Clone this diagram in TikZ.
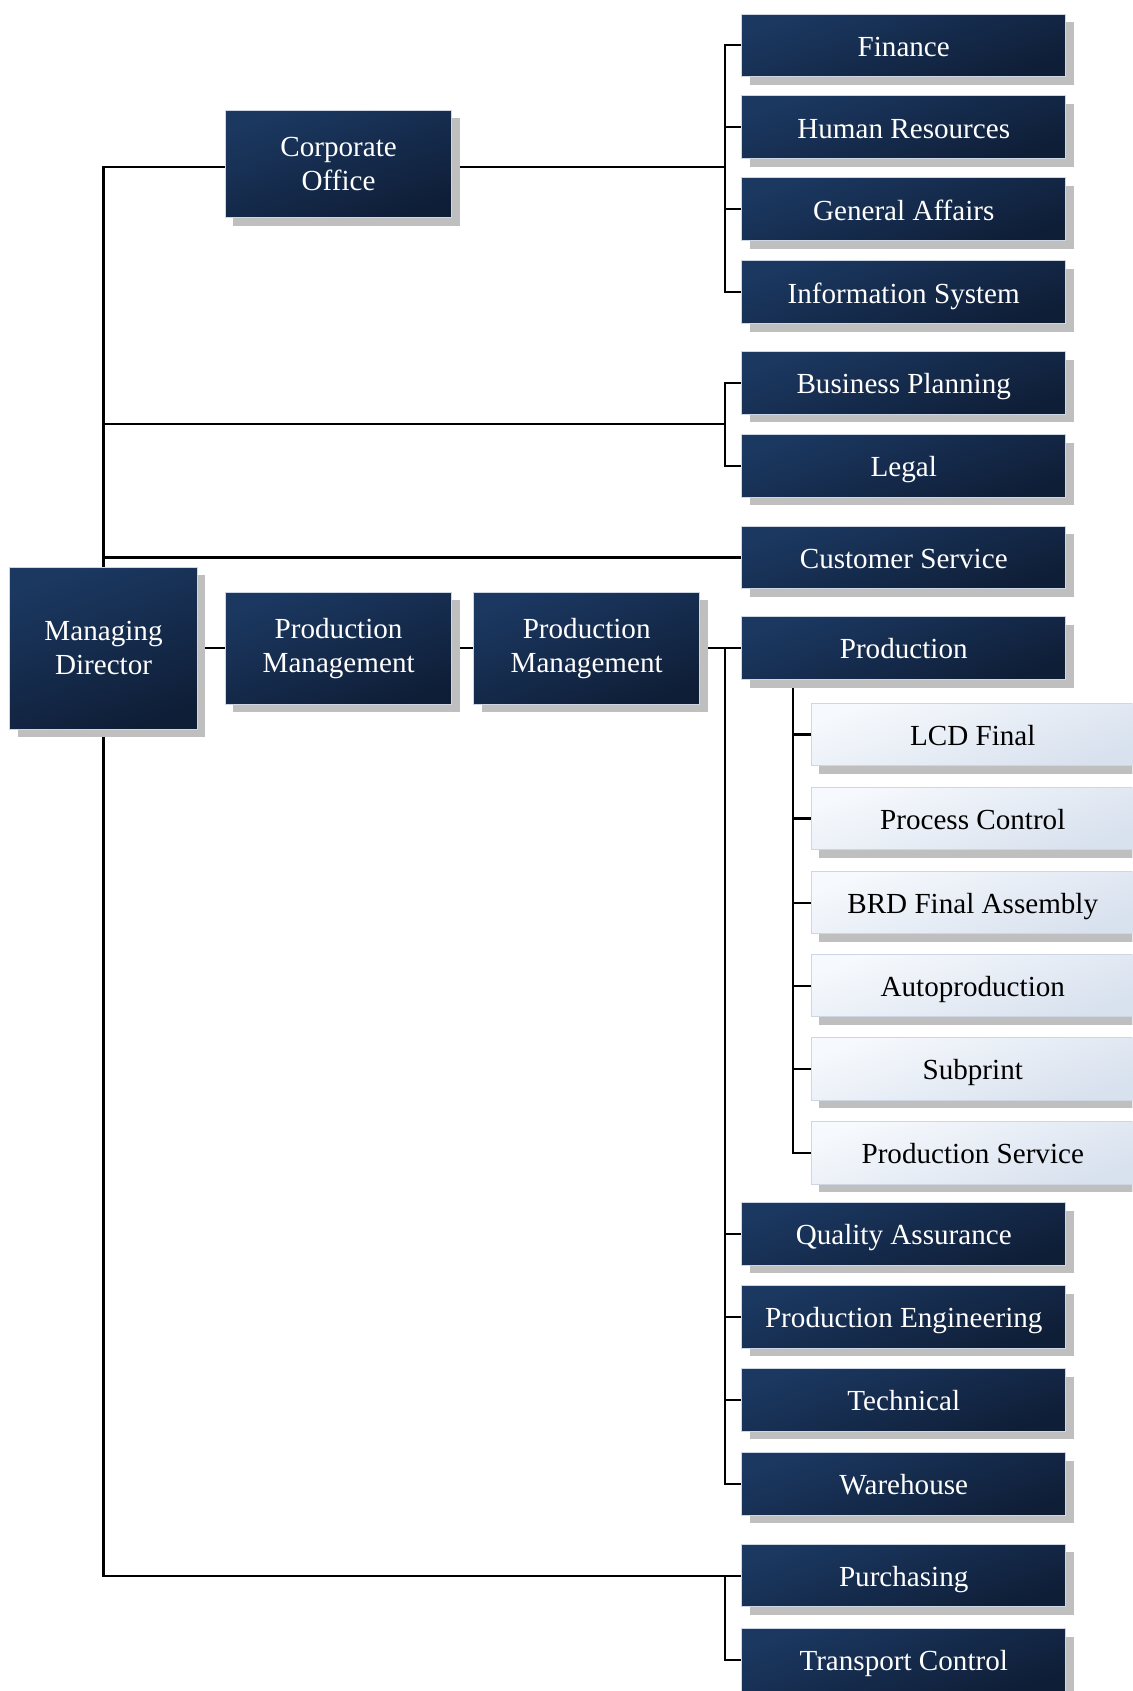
\documentclass[tikz,border=0pt]{standalone}
\usepackage{fontspec}
\setmainfont{Liberation Serif}
\usetikzlibrary{shadows,backgrounds}
\definecolor{darkA}{RGB}{27,56,97}
\definecolor{darkB}{RGB}{15,30,55}
\definecolor{lightA}{RGB}{246,249,253}
\definecolor{lightB}{RGB}{216,225,238}
\definecolor{shadowgray}{RGB}{191,191,191}
\definecolor{edgecol}{RGB}{205,214,228}
\tikzset{
  boxbase/.style={rectangle, draw=edgecol, line width=0.9pt, inner sep=0pt,
    font=\fontsize{27}{31.5}\selectfont, align=center,
    drop shadow={shadow xshift=7.5pt, shadow yshift=-7.5pt, fill=shadowgray, opacity=1}},
  darkbox/.style={boxbase, top color=darkA, bottom color=darkB, shading angle=20, text=white},
  lightbox/.style={boxbase, top color=lightA, bottom color=lightB, shading angle=20, text=black,
    minimum width=300pt, minimum height=58pt, text height=24pt, text depth=4pt},
  deptbox/.style={darkbox, minimum width=300pt, minimum height=58pt, text height=24pt, text depth=4pt},
  conn/.style={line width=2pt, black}
}
\begin{document}
\begin{tikzpicture}[x=1pt,y=-1pt]
\useasboundingbox (0,0) rectangle (1050,1568);
\clip (0,0) rectangle (1050,1568);

% main boxes
\node[darkbox, minimum width=174pt, minimum height=150pt] (md) at (96,601) {Managing\\Director};
\node[darkbox, minimum width=210pt, minimum height=100pt] (co) at (314,152) {Corporate\\Office};
\node[darkbox, minimum width=210pt, minimum height=104pt] (pm1) at (314,601) {Production\\Management};
\node[darkbox, minimum width=210pt, minimum height=104pt] (pm2) at (544,601) {Production\\Management};

% right column
\node[deptbox] (fin) at (838,42) {Finance};
\node[deptbox] (hr) at (838,118) {Human Resources};
\node[deptbox] (ga) at (838,194) {General Affairs};
\node[deptbox] (is) at (838,271) {Information System};
\node[deptbox] (bp) at (838,355) {Business Planning};
\node[deptbox] (lg) at (838,432) {Legal};
\node[deptbox] (cs) at (838,517) {Customer Service};
\node[deptbox] (prod) at (838,601) {Production};
\node[lightbox] (lcd) at (902,681) {LCD Final};
\node[lightbox] (pc) at (902,759) {Process Control};
\node[lightbox] (brd) at (902,837) {BRD Final Assembly};
\node[lightbox] (ap) at (902,914) {Autoproduction};
\node[lightbox] (sp) at (902,991) {Subprint};
\node[lightbox] (ps) at (902,1069) {Production Service};
\node[deptbox] (qa) at (838,1144) {Quality Assurance};
\node[deptbox] (pe) at (838,1221) {Production Engineering};
\node[deptbox] (tech) at (838,1298) {Technical};
\node[deptbox] (wh) at (838,1376) {Warehouse};
\node[deptbox] (pur) at (838,1461) {Purchasing};
\node[deptbox] (tc) at (838,1539) {Transport Control};

% bus points
\coordinate (b1) at (672,155);
\coordinate (b2) at (672,393);
\coordinate (b4) at (672,601);
\coordinate (sb) at (735,601);
\coordinate (b6) at (672,1461);

\begin{pgfonlayer}{background}
% trunk from managing director
\draw[conn] (md.north) |- (b1);
\draw[conn] (md.north) |- (b2);
\draw[conn] (md.north) |- (cs.west);
\draw[conn] (md.south) |- (pur.west);
% corporate office group
\draw[conn] (fin.west) -| (b1) |- (is.west);
\draw[conn] (hr.west) -- (hr.west -| b1);
\draw[conn] (ga.west) -- (ga.west -| b1);
% business planning group
\draw[conn] (bp.west) -| (b2) |- (lg.west);
% production chain
\draw[conn] (md.east) -- (pm1.west);
\draw[conn] (pm1.east) -- (pm2.west);
\draw[conn] (pm2.east) -- (prod.west);
\draw[conn] (b4) |- (wh.west);
\draw[conn] (qa.west) -- (qa.west -| b4);
\draw[conn] (pe.west) -- (pe.west -| b4);
\draw[conn] (tech.west) -- (tech.west -| b4);
% production sub-units
\draw[conn] (sb) |- (ps.west);
\draw[conn] (lcd.west) -- (lcd.west -| sb);
\draw[conn] (pc.west) -- (pc.west -| sb);
\draw[conn] (brd.west) -- (brd.west -| sb);
\draw[conn] (ap.west) -- (ap.west -| sb);
\draw[conn] (sp.west) -- (sp.west -| sb);
% purchasing group
\draw[conn] (b6) |- (tc.west);
\end{pgfonlayer}
\end{tikzpicture}
\end{document}
